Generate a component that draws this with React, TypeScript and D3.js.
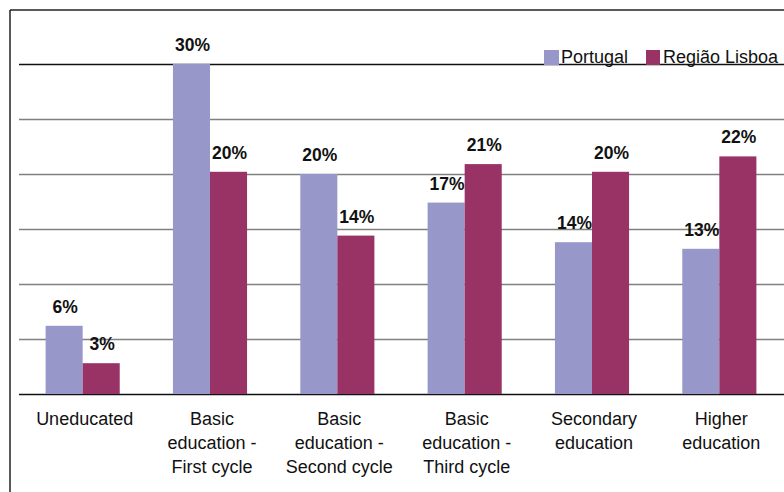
import React from "react";
import * as d3 from "d3";

const categories: string[][] = [
  ["Uneducated"],
  ["Basic", "education -", "First cycle"],
  ["Basic", "education -", "Second cycle"],
  ["Basic", "education -", "Third cycle"],
  ["Secondary", "education"],
  ["Higher", "education"],
];
const seriesNames = ["Portugal", "Região Lisboa"];
const portugal = [6.2, 30, 20, 17.4, 13.8, 13.2];
const lisboa = [2.8, 20.2, 14.4, 20.9, 20.2, 21.6];
const yTicks = [0, 5, 10, 15, 20, 25, 30];
const colors = ["#9797CA", "#993366"];

const W = 784;
const H = 492;
const FONT = "'Liberation Sans', Arial, sans-serif";

export default function App() {
  const keys = categories.map((c) => c.join(" "));
  const x0 = d3.scaleBand<string>().domain(keys).range([19, 783]).paddingInner(0.418).paddingOuter(0.209);
  const x1 = d3.scaleBand<string>().domain(seriesNames).range([0, x0.bandwidth()]).padding(0);
  const y = d3.scaleLinear().domain([0, 30]).range([394, 64]);
  const series = [portugal, lisboa];

  return (
    <svg width={W} height={H} style={{ position: "absolute", left: 0, top: 0, background: "#fff" }}>
      <rect x={0} y={0} width={W} height={H} fill="#fff" />
      {/* frame */}
      <line x1={10} y1={10} x2={W} y2={10} stroke="#222" strokeWidth={1.5} />
      <line x1={10} y1={10} x2={10} y2={H} stroke="#222" strokeWidth={1.5} />
      {/* gridlines */}
      {yTicks.map((t, i) => (
        <line
          key={t}
          x1={19}
          x2={W}
          y1={Math.round(y(t)) + 0.5}
          y2={Math.round(y(t)) + 0.5}
          stroke={t === 0 || t === 30 ? "#111" : "#808080"}
          strokeWidth={1.5}
        />
      ))}
      {/* bars */}
      {series.map((vals, si) =>
        vals.map((v, ci) => {
          const bx = (x0(keys[ci]) as number) + (x1(seriesNames[si]) as number);
          return (
            <rect
              key={`${si}-${ci}`}
              x={bx}
              y={y(v)}
              width={x1.bandwidth()}
              height={y(0) - y(v)}
              fill={colors[si]}
            />
          );
        })
      )}
      {/* value labels */}
      {series.map((vals, si) =>
        vals.map((v, ci) => {
          const cx = (x0(keys[ci]) as number) + (x1(seriesNames[si]) as number) + x1.bandwidth() / 2;
          return (
            <text
              key={`l${si}-${ci}`}
              x={cx + 1}
              y={y(v) - 13}
              textAnchor="middle"
              fontFamily={FONT}
              fontWeight="bold"
              fontSize={17.5}
              fill="#111"
            >
              {Math.round(v)}%
            </text>
          );
        })
      )}
      {/* category labels */}
      {categories.map((lines, ci) => {
        const cx = (x0(keys[ci]) as number) + x0.bandwidth() / 2 + 2;
        return (
          <text key={`c${ci}`} textAnchor="middle" fontFamily={FONT} fontSize={18} fill="#111">
            {lines.map((ln, li) => (
              <tspan key={li} x={cx} y={425 + li * 24}>
                {ln}
              </tspan>
            ))}
          </text>
        );
      })}
      {/* legend */}
      <rect x={544} y={50} width={15} height={15} fill={colors[0]} />
      <text x={561} y={63} fontFamily={FONT} fontSize={18} fill="#111">
        {seriesNames[0]}
      </text>
      <rect x={646} y={50} width={14} height={15} fill={colors[1]} />
      <text x={663} y={63} fontFamily={FONT} fontSize={18} fill="#111">
        {seriesNames[1]}
      </text>
    </svg>
  );
}
